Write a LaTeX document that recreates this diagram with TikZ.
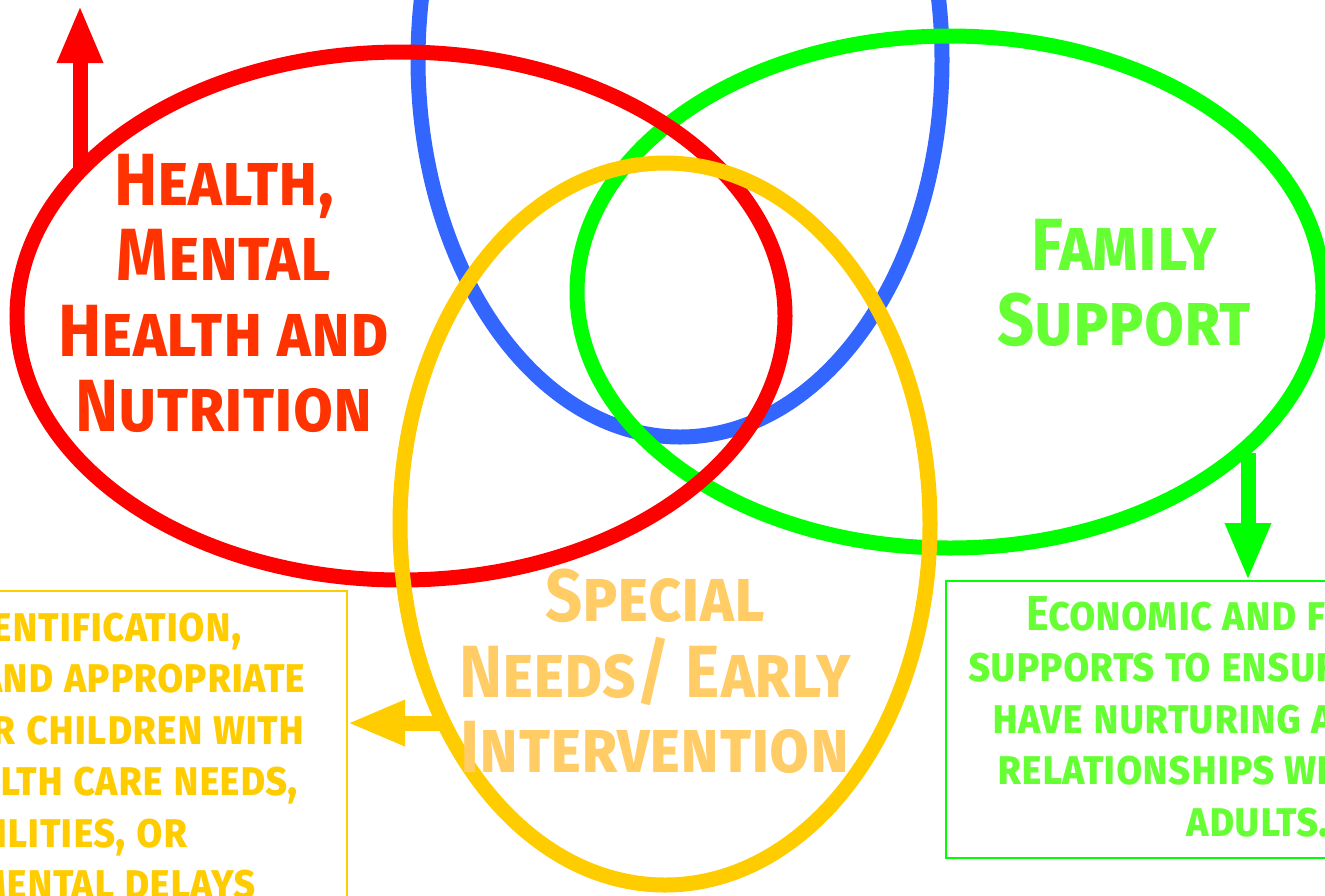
\documentclass[tikz,border=0pt]{standalone}
\usepackage{fontspec}
\newfontfamily\brush{Fira Sans}[FakeStretch=0.88]
\usetikzlibrary{shapes.geometric,arrows.meta}
\definecolor{cred}{HTML}{FF0000}
\definecolor{credtext}{HTML}{FF3300}
\definecolor{cblue}{HTML}{3366FF}
\definecolor{cgreen}{HTML}{00FF00}
\definecolor{cgreentext}{HTML}{66FF33}
\definecolor{cyellow}{HTML}{FFCC00}
\definecolor{cyellowtext}{HTML}{FFCC66}
\begin{document}
\begin{tikzpicture}[x=1pt,y=-1pt,
  ring/.style={draw, ellipse, line width=15pt, inner sep=0pt, outer sep=0pt},
  fatarrow/.style={line width=15pt, -{Triangle[length=58pt,width=42pt]}},
  infobox/.style={draw, line width=2pt, inner sep=0pt, outer sep=0pt, anchor=north west},
  bigtext/.style={anchor=north, align=center, inner sep=0pt, font=\brush\bfseries\scshape\fontsize{74}{75.5}\selectfont},
  smalltext/.style={anchor=north, align=center, inner sep=0pt, font=\brush\bfseries\scshape\fontsize{49}{51.5}\selectfont}]
\useasboundingbox (0,0) rectangle (1325,895);
\clip (0,0) rectangle (1325,895);
\fill[white] (0,0) rectangle (1325,895);
% rings
\node[ring, draw=cblue, minimum width=524pt, minimum height=754pt] (blue) at (680,60) {};
\node[ring, draw=cgreen, minimum width=746pt, minimum height=512pt] (green) at (950,292) {};
\node[ring, draw=cred, minimum width=768pt, minimum height=528pt] (red) at (401,316) {};
\node[ring, draw=cyellow, minimum width=530pt, minimum height=722pt] (yellow) at (665,524) {};
% boxes
\node[infobox, draw=cyellow, minimum width=618pt, minimum height=340pt] (ybox) at (-271,591) {};
\node[infobox, draw=cgreen, minimum width=628pt, minimum height=277pt] (gbox) at (946,581) {};
% arrows
\coordinate (rx) at (80,5);
\coordinate (gx) at (1248,0);
\draw[fatarrow, cred] (rx |- red.155) -- (rx);
\draw[fatarrow, cgreen] (gx |- green.-29) -- (gx |- gbox.north);
\draw[fatarrow, cyellow] (yellow.222 -| yellow.west) ++(45,0) coordinate (ys) (ys) -- (ys -| ybox.east);
% texts
\node[bigtext, text=credtext] (tred) at (224,154) {Health,\\Mental\\Health and\\Nutrition};
\node[bigtext, text=cgreentext] (tgreen) at (1124,219) {Family\\Support};
\node[bigtext, text=cyellowtext] (tyellow) at (655,569) {Special\\Needs/ Early\\Intervention};
\node[smalltext, text=cyellow] (tybox) at (38,607) {Early identification,\\screening and appropriate\\services for children with\\special health care needs,\\disabilities, or\\developmental delays};
\node[smalltext, text=cgreentext] (tgbox) at (1258,596) {Economic and financial\\supports to ensure children\\have nurturing and stable\\relationships with caring\\adults.};
\end{tikzpicture}
\end{document}
